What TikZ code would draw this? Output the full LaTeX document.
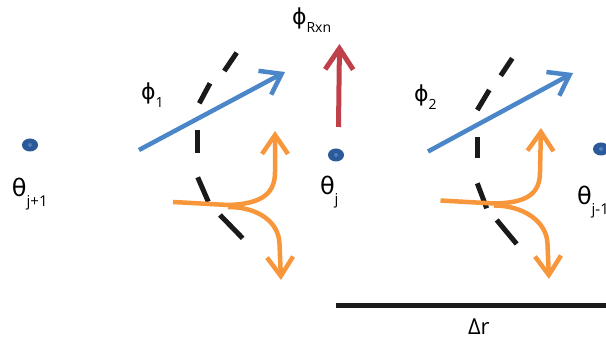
\documentclass[tikz,border=0pt]{standalone}
\usepackage{fontspec}
\setmainfont{Open Sans}
\newfontfamily\gk{DejaVu Sans}
\usetikzlibrary{arrows.meta,shapes.geometric}
\definecolor{dotblue}{HTML}{2A5B98}
\definecolor{dotin}{HTML}{4F7FBF}
\definecolor{arrblue}{HTML}{4A86C8}
\definecolor{arrorange}{HTML}{F7963A}
\definecolor{arrred}{HTML}{C0404A}
\definecolor{dashblk}{HTML}{1A1A1A}
\newcommand{\thlab}[1]{{\gk\fontsize{24}{24}\selectfont θ}\raisebox{-10pt}{\fontsize{15}{15}\selectfont #1}}
\newcommand{\phlab}[1]{{\gk\fontsize{22}{22}\selectfont ϕ}\raisebox{-8pt}{\fontsize{14}{14}\selectfont #1}}
\begin{document}
\begin{tikzpicture}[x=1pt,y=-1pt,
  dotstyle/.style={ellipse,fill=dotblue,minimum width=16pt,minimum height=13pt,inner sep=0pt,
     path picture={\fill[dotin] (path picture bounding box.center) circle (2pt);}},
  lab/.style={anchor=base west,inner sep=0pt,outer sep=0pt},
  dsh/.style={draw=dashblk,line width=5pt},
  bluearr/.style={draw=arrblue,line width=4.5pt,-{Straight Barb[length=19pt,width=27pt]}},
  orangearr/.style={draw=arrorange,line width=4.5pt,-{Straight Barb[length=19pt,width=26pt]}},
  orangeln/.style={draw=arrorange,line width=4.5pt},
  redarr/.style={draw=arrred,line width=5pt,-{Straight Barb[length=21pt,width=28pt]}}]
\useasboundingbox (0,0) rectangle (606,344);
% dots
\node[dotstyle] (d1) at (30,145) {};
\node[dotstyle] (d2) at (336,155) {};
\node[dotstyle] (d3) at (601,149) {};
% theta labels
\node[lab] (t1) at (12,197) {\thlab{j+1}};
\node[lab] (t2) at (320,195) {\thlab{j}};
\node[lab] (t3) at (577,205) {\thlab{j-1}};
% phi labels
\node[lab] (p1) at (141,100) {\phlab{1}};
\node[lab] (p2) at (414,102) {\phlab{2}};
\node[lab] (pr) at (292,25) {\phlab{Rxn}};
% dashed interface 1
\draw[dsh] (236.7,52.7) -- (224.3,71);
\draw[dsh] (210,83.3) -- (199.3,103.3);
\draw[dsh] (197.3,130) -- (197.3,153);
\draw[dsh] (197.7,177.3) -- (208.3,201.7);
\draw[dsh] (220,215) -- (242.7,238.3);
% dashed interface 2
\draw[dsh] (512.3,58.3) -- (500.7,75.7);
\draw[dsh] (489.3,90) -- (477.3,110);
\draw[dsh] (477.3,136.7) -- (477.3,158.3);
\draw[dsh] (477.3,183.3) -- (486.7,208.3);
\draw[dsh] (496.7,220) -- (516.7,244);
% coordinates
\coordinate (b1s) at (139,150);
\coordinate (b1e) at (285,72);
\coordinate (b2s) at (428,151.5);
\coordinate (b2e) at (573,73);
\coordinate (rs) at (338.5,127);
\coordinate (re) at (339.5,44);
\coordinate (o1s) at (173,202);
\coordinate (o1j) at (228,205);
\coordinate (o1u) at (275,131);
\coordinate (o1d) at (281,280);
\coordinate (o2s) at (440.5,200.5);
\coordinate (o2j) at (494,203.5);
\coordinate (o2u) at (541,128);
\coordinate (o2d) at (549,279);
\coordinate (dr1) at (336,306);
\coordinate (dr2) at (606,306);
% blue arrows
\draw[bluearr] (b1s) -- (b1e);
\draw[bluearr] (b2s) -- (b2e);
% red arrow
\draw[redarr] (rs) -- (re);
% orange 1
\draw[orangeln] (o1s) -- (o1j);
\draw[orangearr] (o1j) .. controls (264,204) and (275,192) .. (275,172) -- (o1u);
\draw[orangearr] (o1j) ++(0,2) .. controls (258,207) and (279,222) .. (279.5,244) -- (o1d);
% orange 2
\draw[orangeln] (o2s) -- (o2j);
\draw[orangearr] (o2j) .. controls (528,203) and (540,193) .. (540,172) -- (o2u);
\draw[orangearr] (o2j) ++(0,2) .. controls (524,205.5) and (547,222) .. (547.5,244) -- (o2d);
% delta r
\draw[line width=5pt,draw=dashblk] (dr1) -- (dr2);
\node[lab] (drl) at (468,335) {\fontsize{22}{22}\selectfont Δr};
\end{tikzpicture}
\end{document}
